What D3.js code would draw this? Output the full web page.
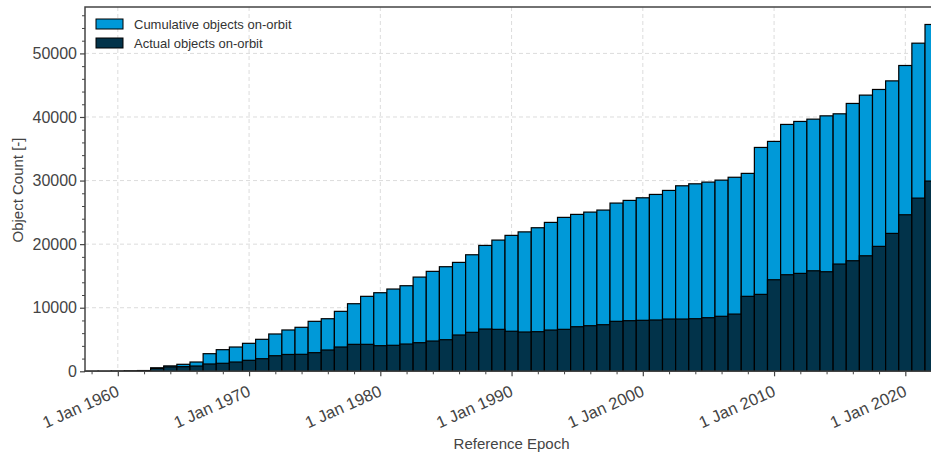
<!DOCTYPE html>
<html>
<head>
<meta charset="utf-8">
<script src="https://cdn.jsdelivr.net/npm/d3@7"></script>
<style>
  body { margin: 0; background: #fff; }
  svg { display: block; font-family: "Liberation Sans", Arial, sans-serif; }
</style>
</head>
<body>
<div id="graph"></div>
<script>
// yearly bars, 1958 .. 2022
var years = d3.range(1958, 2023);
var cumulative = [5, 10, 30, 60, 120, 550, 850, 1100, 1460, 2770,
  3400, 3820, 4400, 5030, 5870, 6500, 6920, 7860, 8270, 9430,
  10630, 11790, 12360, 12940, 13460, 14820, 15720, 16450, 17130, 18330,
  19800, 20640, 21380, 21930, 22580, 23420, 24210, 24680, 25040, 25360,
  26460, 26880, 27290, 27820, 28450, 29180, 29490, 29760, 30070, 30520,
  31130, 35210, 36160, 38830, 39300, 39660, 40180, 40500, 42130, 43440,
  44330, 45680, 48100, 51610, 54550];
var actual = [5, 10, 20, 50, 100, 450, 700, 730, 830, 1150,
  1260, 1460, 1730, 1980, 2450, 2650, 2670, 2930, 3350, 3820,
  4240, 4240, 4030, 4090, 4290, 4500, 4760, 4970, 5710, 6130,
  6650, 6600, 6300, 6180, 6230, 6490, 6600, 7010, 7170, 7330,
  7860, 7960, 8020, 8070, 8220, 8220, 8270, 8430, 8650, 9000,
  11790, 12100, 14400, 15190, 15400, 15810, 15660, 16870, 17390, 18170,
  19650, 21690, 24620, 27240, 29920];
var majorYears = [1960, 1970, 1980, 1990, 2000, 2010, 2020];
var yTicks = [0, 10000, 20000, 30000, 40000, 50000];
var seriesNames = ["Cumulative objects on-orbit", "Actual objects on-orbit"];
var colors = ["#0099d8", "#02334a"];

const W = 931, H = 458;
const mLeft = 85, mTop = 7, mBottom = 371.3;

var svg = d3.select("#graph").append("svg")
  .attr("width", W).attr("height", H);

var x = d3.scaleLinear().domain([1957.5, 2022.5]).range([mLeft, mLeft + 65 * 13.125]);
var y = d3.scaleLinear().domain([0, 57300]).range([mBottom, mTop]);

// grid
var grid = svg.append("g").attr("stroke", "#dcdcdc").attr("stroke-dasharray", "4,3").attr("stroke-width", 1);
grid.selectAll("line.v").data(majorYears).enter().append("line")
  .attr("x1", d => x(d)).attr("x2", d => x(d)).attr("y1", mTop).attr("y2", mBottom);
grid.selectAll("line.h").data(yTicks.slice(1)).enter().append("line")
  .attr("x1", mLeft).attr("x2", W).attr("y1", d => y(d)).attr("y2", d => y(d));

// bars
function bars(vals, color) {
  svg.append("g").selectAll("rect").data(years).enter().append("rect")
    .attr("x", d => x(d - 0.5))
    .attr("width", d => x(d + 0.5) - x(d - 0.5))
    .attr("y", (d, i) => y(vals[i]))
    .attr("height", (d, i) => y(0) - y(vals[i]))
    .attr("fill", color)
    .attr("stroke", "#000")
    .attr("stroke-width", 1.2);
}
bars(cumulative, colors[0]);
bars(actual, colors[1]);

// axes
var ax = svg.append("g").attr("transform", "translate(0," + mBottom + ")")
  .call(d3.axisBottom(x).tickValues(majorYears).tickSize(5).tickPadding(3)
    .tickFormat(d => "1 Jan " + d));
ax.select(".domain").remove();
ax.selectAll("line").attr("stroke", "#444").attr("stroke-width", 1.2);
ax.selectAll("text")
  .attr("font-size", 16.5).attr("fill", "#444")
  .attr("text-anchor", "end")
  .attr("y", null).attr("dy", null)
  .attr("transform", "translate(2,24) rotate(-24)");
var axm = svg.append("g").attr("transform", "translate(0," + mBottom + ")")
  .call(d3.axisBottom(x).tickValues(d3.range(1958, 2023, 2).filter(d => d % 10)).tickSize(3).tickFormat(""));
axm.select(".domain").remove();
axm.selectAll("line").attr("stroke", "#444").attr("stroke-width", 1);

var ay = svg.append("g").attr("transform", "translate(" + mLeft + ",0)")
  .call(d3.axisLeft(y).tickValues(yTicks).tickSize(5).tickPadding(3).tickFormat(d3.format("d")));
ay.select(".domain").remove();
ay.selectAll("line").attr("stroke", "#444").attr("stroke-width", 1.2);
ay.selectAll("text").attr("font-size", 16).attr("fill", "#444");
var aym = svg.append("g").attr("transform", "translate(" + mLeft + ",0)")
  .call(d3.axisLeft(y).tickValues(d3.range(2000, 57300, 2000).filter(d => d % 10000)).tickSize(3).tickFormat(""));
aym.select(".domain").remove();
aym.selectAll("line").attr("stroke", "#444").attr("stroke-width", 1);

// spines
svg.append("path")
  .attr("d", "M" + W + "," + mTop + "H" + mLeft + "V" + mBottom + "H" + W)
  .attr("fill", "none").attr("stroke", "#444").attr("stroke-width", 1.5);

// labels
svg.append("text").attr("x", (mLeft + x.range()[1]) / 2).attr("y", 449)
  .attr("text-anchor", "middle").attr("font-size", 15).attr("fill", "#444")
  .text("Reference Epoch");
svg.append("text").attr("transform", "translate(23," + 190 + ") rotate(-90)")
  .attr("text-anchor", "middle").attr("font-size", 15).attr("fill", "#444")
  .text("Object Count [-]");

// legend
var lg = svg.append("g").selectAll("g").data(seriesNames).enter().append("g")
  .attr("transform", (d, i) => "translate(96," + (19 + i * 19) + ")");
lg.append("rect").attr("width", 27).attr("height", 10)
  .attr("fill", (d, i) => colors[i]).attr("stroke", "#000").attr("stroke-width", 1);
lg.append("text").attr("x", 38).attr("y", 10).attr("font-size", 13).attr("fill", "#333")
  .text(d => d);
</script>
</body>
</html>
